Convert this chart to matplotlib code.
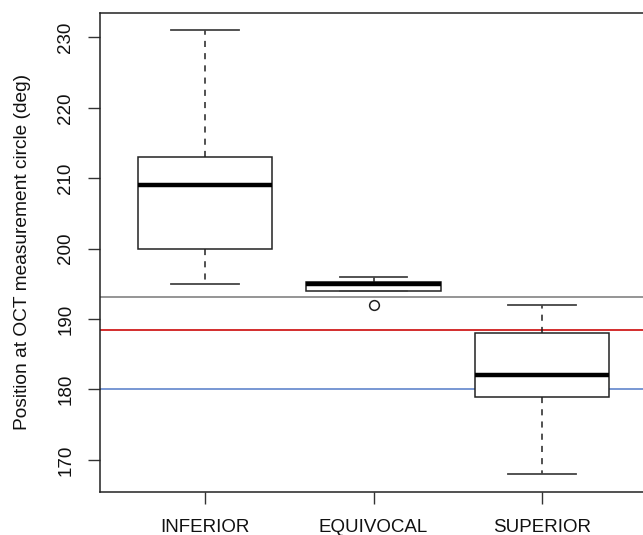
import numpy as np
import matplotlib
matplotlib.use("Agg")
import matplotlib.pyplot as plt

plt.rcParams["font.family"] = ["Liberation Sans", "DejaVu Sans"]

# five-number summaries, plus outliers
groups = ["INFERIOR", "EQUIVOCAL", "SUPERIOR"]
whislo = [195, 194, 168]
q1 = [200, 194, 179]
med = [209, 195, 182]
q3 = [213, 195.2, 188]
whishi = [231, 196, 192]
fliers = [[], [192], []]

# reference lines
ref_levels = [193.1, 188.4, 180.1]
ref_colors = ["#8c8c8c", "#d01c1c", "#6d8fd0"]

stats = []
for i, name in enumerate(groups):
    stats.append(dict(label=name, whislo=whislo[i], q1=q1[i], med=med[i],
                      q3=q3[i], whishi=whishi[i], fliers=fliers[i]))

fig = plt.figure(figsize=(6.43, 5.35), dpi=100)
# right edge of the frame falls just outside the picture, as in the reference
ax = fig.add_axes([100 / 643, 43.3 / 535, 547 / 643, 479 / 535])

for lev, col in zip(ref_levels, ref_colors):
    ax.axhline(lev, color=col, lw=1.3, zorder=1)

ax.bxp(stats, positions=[1, 2, 3], widths=0.8, patch_artist=True,
       boxprops=dict(facecolor="white", edgecolor="#222222", lw=1.1),
       medianprops=dict(color="black", lw=3.2, solid_capstyle="butt"),
       whiskerprops=dict(color="#222222", lw=1.1, ls=(0, (4, 4))),
       capprops=dict(color="#444444", lw=1.3),
       flierprops=dict(marker="o", markerfacecolor="none",
                       markeredgecolor="#222222", markersize=7, mew=1.1),
       capwidths=0.4, zorder=2)

ax.set_xlim(0.377, 3.623)
ax.set_ylim(165.48, 233.52)
ax.set_yticks(np.arange(170, 231, 10))
ax.set_xticks([1, 2, 3])
ax.set_xticklabels(groups)
for lab in ax.get_yticklabels():
    lab.set_rotation(90)
    lab.set_va("center")
ax.tick_params(direction="out", length=8.4, width=1, colors="#333333",
               labelsize=13.5, labelcolor="#111111")
ax.tick_params(axis="y", pad=10)
ax.tick_params(axis="x", pad=11)
for s in ax.spines.values():
    s.set_linewidth(1.1)
    s.set_color("#222222")

ax.set_ylabel("Position at OCT measurement circle (deg)", fontsize=13.8,
              color="#111111", labelpad=19)

fig.savefig("out.png", dpi=100)
